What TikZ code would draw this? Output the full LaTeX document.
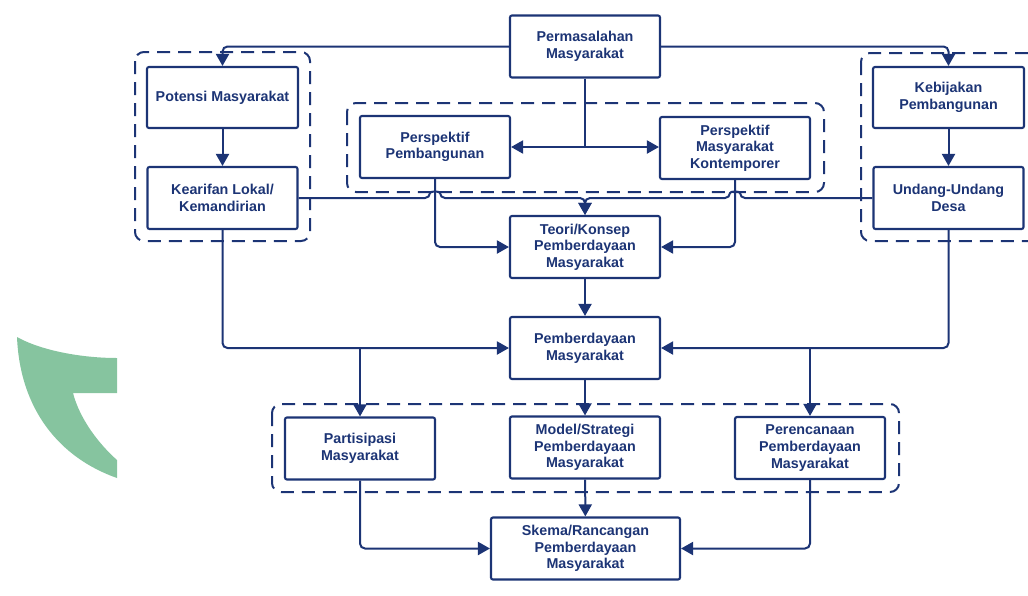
\documentclass[tikz,border=0pt]{standalone}
\usepackage{fontspec}
\setmainfont{Liberation Sans}
\usetikzlibrary{arrows.meta}
\definecolor{navy}{RGB}{28,52,117}
\definecolor{wmgreen}{RGB}{134,196,159}

\begin{document}
\begin{tikzpicture}[x=1pt,y=-1pt,
    box/.style={draw=navy,line width=2.1pt,rounded corners=2pt,minimum width=150pt,minimum height=62pt,
      align=center,text=navy,font=\fontsize{14.3}{16.6}\selectfont\bfseries,inner sep=2pt},
    group/.style={draw=navy,line width=2pt,dash pattern=on 13pt off 8pt,rounded corners=9pt},
    conn/.style={draw=navy,line width=2pt,rounded corners=5pt,-{Triangle[length=12pt,width=13pt]}},
    line/.style={draw=navy,line width=2pt,rounded corners=5pt}]
      \useasboundingbox (0,0) rectangle (1028,595);
      \fill[wmgreen] (17,337) .. controls (40,350) and (80,358) .. (117,358) -- (117,393) -- (73,393)
        .. controls (80,420) and (100,445) .. (117,460) -- (117,478)
        .. controls (60,458) and (20,410) .. (17,337) -- cycle;

      \node[box] (perm) at (585,46.5) {Permasalahan\\Masyarakat};
      \node[box,minimum width=151pt,minimum height=61pt] (potensi) at (222.5,97.5) {Potensi Masyarakat};
      \node[box] (kearifan) at (222.5,198) {Kearifan Lokal/\\Kemandirian};
      \node[box] (perspPemb) at (435,147) {Perspektif\\Pembangunan};
      \node[box] (perspKont) at (735,148) {Perspektif\\Masyarakat\\Kontemporer};
      \node[box,minimum width=151pt,minimum height=61pt] (kebijakan) at (948.5,97.5) {Kebijakan\\Pembangunan};
      \node[box] (undang) at (948.5,198) {Undang-Undang\\Desa};
      \node[box] (teori) at (585,247) {Teori/Konsep\\Pemberdayaan\\Masyarakat};
      \node[box] (pemb) at (585,348) {Pemberdayaan\\Masyarakat};
      \node[box] (partisipasi) at (360,448.5) {Partisipasi\\Masyarakat};
      \node[box] (model) at (585,447.5) {Model/Strategi\\Pemberdayaan\\Masyarakat};
      \node[box] (perencanaan) at (810,448) {Perencanaan\\Pemberdayaan\\Masyarakat};
      \node[box,minimum width=189pt] (skema) at (585.5,548.5) {Skema/Rancangan\\Pemberdayaan\\Masyarakat};

      \draw[group] (135,52) rectangle (310,241);
      \draw[group] (347,103) rectangle (824,192);
      \draw[group] (861,53) rectangle (1040,241);
      \draw[group] (272,404) rectangle (899,492);

      \draw[conn] (perm.west) -| (potensi.north);
      \draw[conn] (perm.east) -| (kebijakan.north);
      \draw[conn] (potensi) -- (kearifan);
      \draw[conn] (kebijakan) -- (undang);
      \coordinate (split) at (perm.south |- perspPemb.east);
      \draw[line] (perm.south) -- (split);
      \draw[conn] (split) -- (perspPemb.east);
      \draw[conn] (split) -- (split -| perspKont.west);

      \draw[conn] (kearifan.east) -- ([xshift=-5pt]perspPemb.south |- kearifan.east)
        .. controls +(0,-7) and +(0,-7) .. ([xshift=5pt]perspPemb.south |- kearifan.east)
        -- (teori.north |- kearifan.east) -- (teori.north);
      \draw[conn] (undang.west) -- ([xshift=5pt]perspKont.south |- undang.west)
        .. controls +(0,-7) and +(0,-7) .. ([xshift=-5pt]perspKont.south |- undang.west)
        -- (teori.north |- undang.west) -- (teori.north);
      \draw[conn] (perspPemb.south) |- (teori.west);
      \draw[conn] (perspKont.south) |- (teori.east);
      \draw[conn] (teori) -- (pemb);

      \draw[conn] (kearifan.south) |- (pemb.west);
      \draw[conn] (undang.south) |- (pemb.east);
      \draw[conn] (partisipasi.north |- pemb.west) -- (partisipasi.north);
      \draw[conn] (perencanaan.north |- pemb.east) -- (perencanaan.north);
      \draw[conn] (pemb) -- (model);
      \draw[conn] (model) -- (skema);
      \draw[conn] (partisipasi.south) |- (skema.west);
      \draw[conn] (perencanaan.south) |- (skema.east);
\end{tikzpicture}
\end{document}
